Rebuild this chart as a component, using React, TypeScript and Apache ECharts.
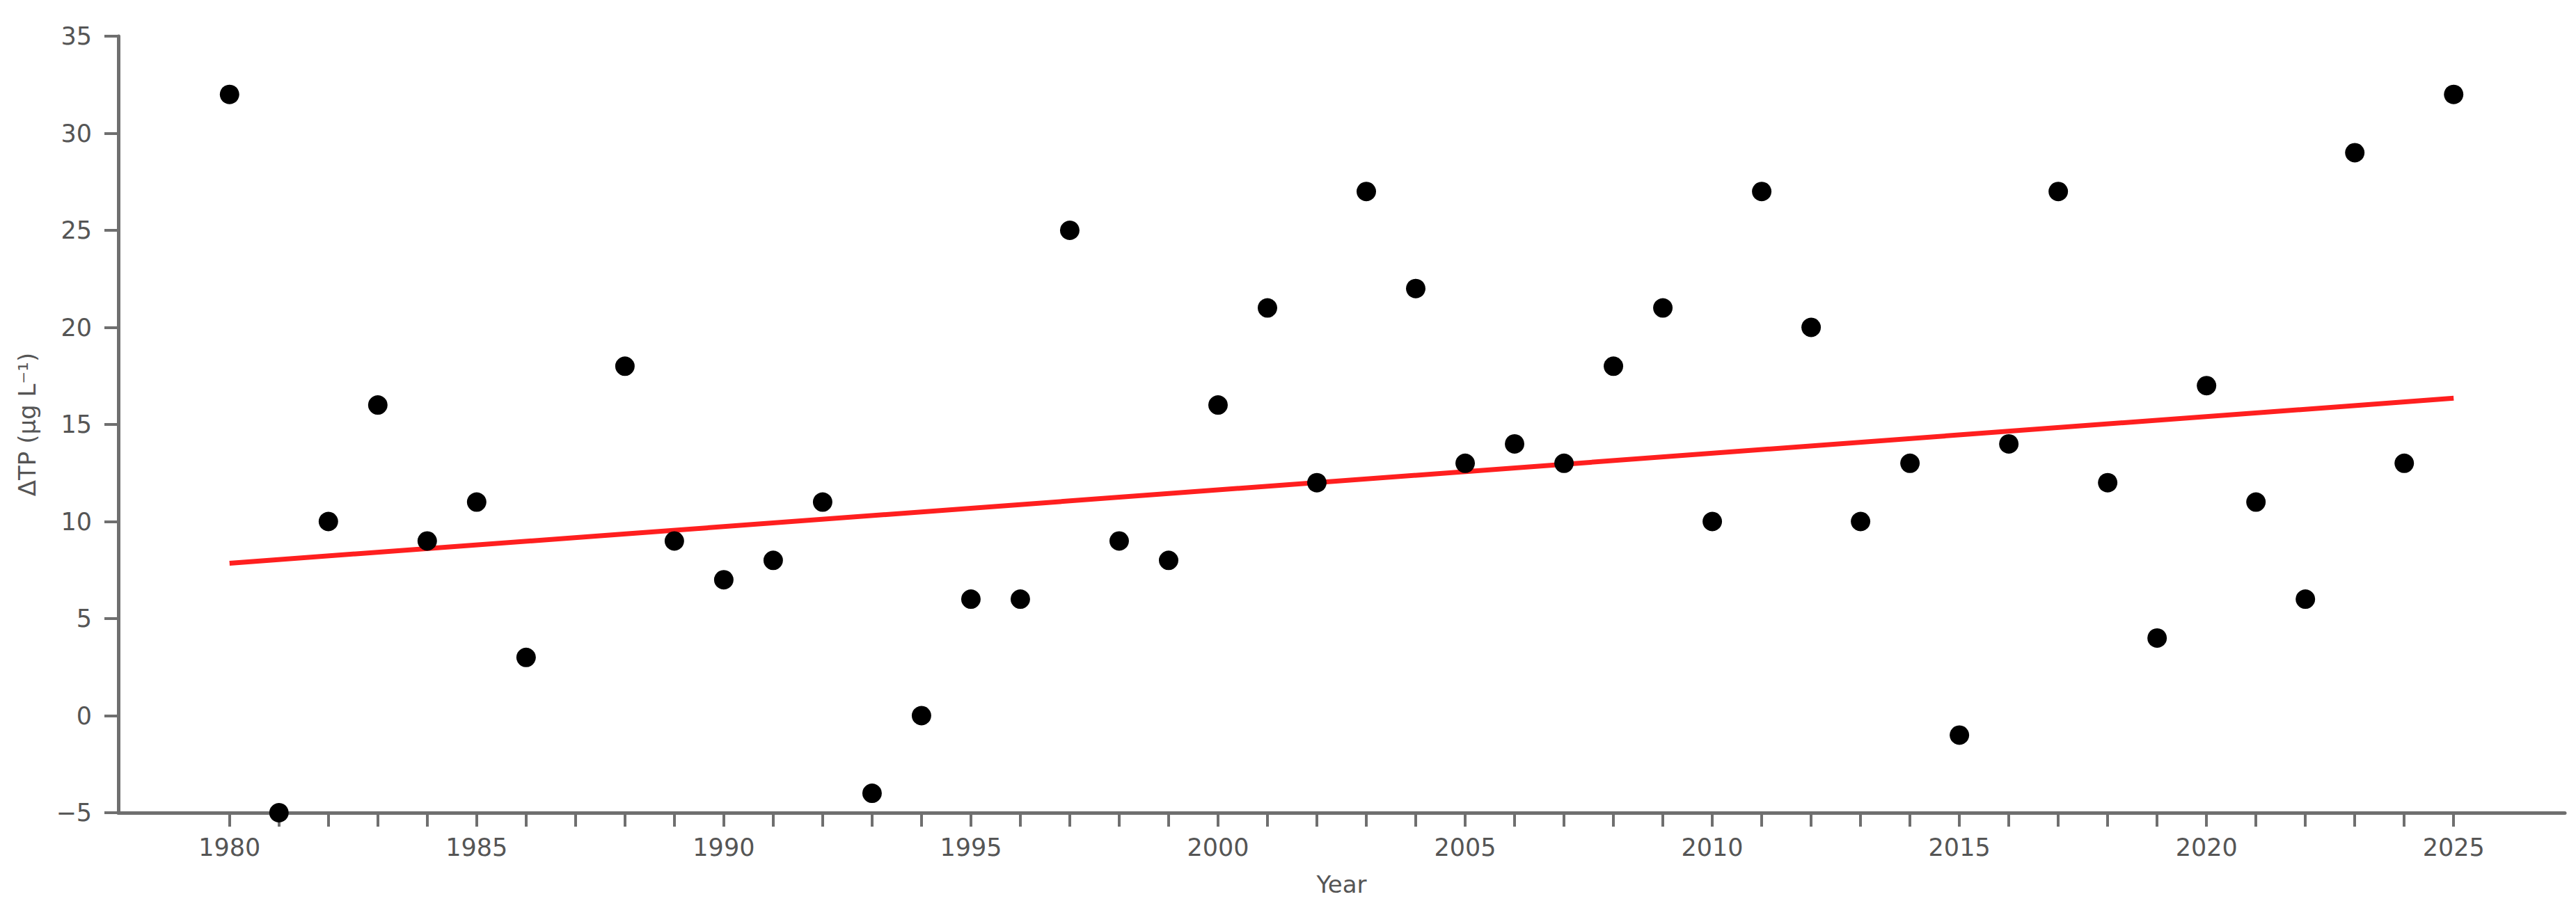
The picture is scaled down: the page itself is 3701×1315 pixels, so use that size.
import React, { useEffect, useRef } from "react";
import * as echarts from "echarts";

const years = [
  1980, 1981, 1982, 1983, 1984, 1985, 1986,
  1988, 1989, 1990, 1991, 1992, 1993, 1994, 1995, 1996, 1997,
  1998, 1999, 2000, 2001, 2002, 2003, 2004, 2005, 2006, 2007,
  2008, 2009, 2010, 2011, 2012, 2013, 2014, 2015, 2016, 2017,
  2018, 2019, 2020, 2021, 2022, 2023, 2024, 2025,
];
const deltaTP = [
  32, -5, 10, 16, 9, 11, 3,
  18, 9, 7, 8, 11, -4, 0, 6, 6, 25,
  9, 8, 16, 21, 12, 27, 22, 13, 14, 13,
  18, 21, 10, 27, 20, 10, 13, -1, 14, 27,
  12, 4, 17, 11, 6, 29, 13, 32,
];
const trendYears = [1980, 2025];
const trendValues = [7.85, 16.35];
const xTickYears = [
  1980, 1981, 1982, 1983, 1984, 1985, 1986, 1987, 1988, 1989,
  1990, 1991, 1992, 1993, 1994, 1995, 1996, 1997, 1998, 1999,
  2000, 2001, 2002, 2003, 2004, 2005, 2006, 2007, 2008, 2009,
  2010, 2011, 2012, 2013, 2014, 2015, 2016, 2017, 2018, 2019,
  2020, 2021, 2022, 2023, 2024, 2025,
];
const xLabelYears = [1980, 1985, 1990, 1995, 2000, 2005, 2010, 2015, 2020, 2025];

const FONT = "DejaVu Sans";
const AXIS_COLOR = "#6f6f6f";
const LABEL_COLOR = "#555555";

export default function App() {
  const ref = useRef<HTMLDivElement>(null);
  useEffect(() => {
    if (!ref.current) return;
    const chart = echarts.init(ref.current, undefined, { renderer: "svg" });
    chart.setOption({
      animation: false,
      backgroundColor: "#ffffff",
      grid: { left: 170, right: 16, top: 52, bottom: 147, containLabel: false },
      xAxis: {
        type: "value",
        min: 1977.75,
        max: 2027.25,
        name: "Year",
        nameLocation: "middle",
        nameGap: 86,
        nameTextStyle: { fontFamily: FONT, fontSize: 34, color: LABEL_COLOR },
        splitLine: { show: false },
        axisLine: { show: true, onZero: false, lineStyle: { color: AXIS_COLOR, width: 5 } },
        axisTick: {
          show: true,
          length: 20,
          customValues: xTickYears,
          lineStyle: { color: AXIS_COLOR, width: 4 },
        },
        axisLabel: {
          customValues: xLabelYears,
          margin: 32,
          fontFamily: FONT,
          fontSize: 35,
          color: LABEL_COLOR,
          formatter: (v: number) => String(v),
        },
      },
      yAxis: {
        type: "value",
        min: -5,
        max: 35,
        interval: 5,
        name: "ΔTP (µg L⁻¹)",
        nameLocation: "middle",
        nameGap: 114,
        nameTextStyle: { fontFamily: FONT, fontSize: 34, color: LABEL_COLOR },
        splitLine: { show: false },
        axisLine: { show: true, onZero: false, lineStyle: { color: AXIS_COLOR, width: 5 } },
        axisTick: { show: true, length: 20, lineStyle: { color: AXIS_COLOR, width: 4 } },
        axisLabel: {
          margin: 38,
          fontFamily: FONT,
          fontSize: 35,
          color: LABEL_COLOR,
          formatter: (v: number) => (v < 0 ? "−" + Math.abs(v) : String(v)),
        },
      },
      series: [
        {
          type: "line",
          data: trendYears.map((y, i) => [y, trendValues[i]]),
          showSymbol: false,
          symbol: "none",
          lineStyle: { color: "#ff1f1f", width: 7 },
          z: 2,
        },
        {
          type: "scatter",
          data: years.map((y, i) => [y, deltaTP[i]]),
          symbol: "circle",
          symbolSize: 28,
          itemStyle: { color: "#000000", opacity: 1 },
          z: 3,
        },
      ],
    });
    return () => chart.dispose();
  }, []);
  return (
    <div
      ref={ref}
      style={{ position: "fixed", left: 0, top: 0, width: 3701, height: 1315, background: "#fff" }}
    />
  );
}
